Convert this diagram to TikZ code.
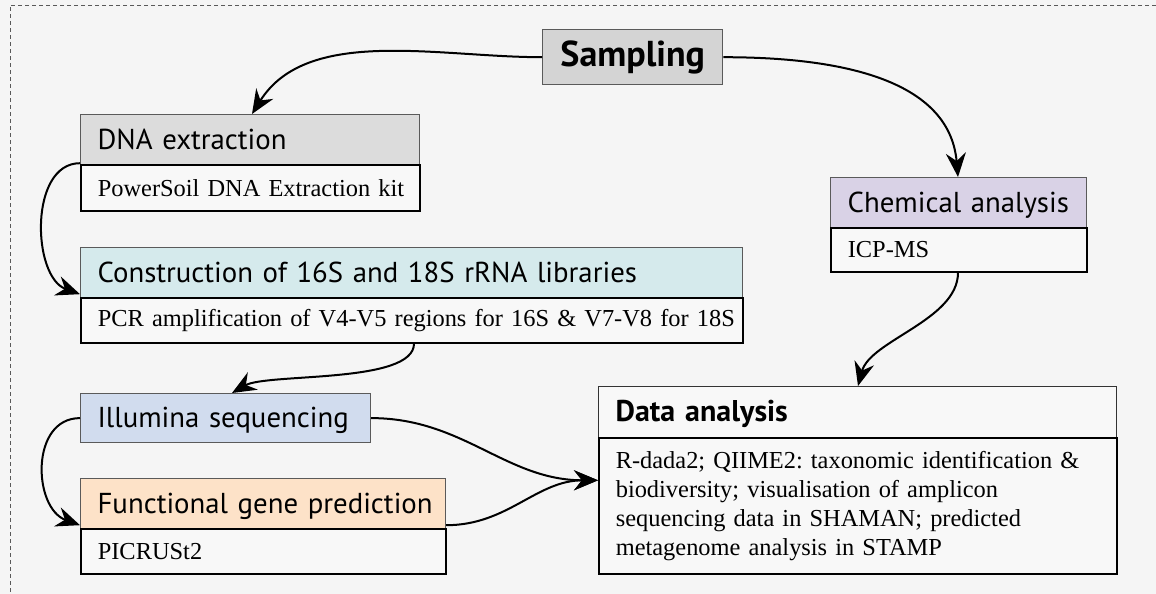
\documentclass[tikz,border=0pt]{standalone}
\usepackage{fontspec}
\setmainfont{Liberation Serif}
\newfontfamily\hdrfont{PT Sans}
\usetikzlibrary{arrows.meta,calc}
\frenchspacing
\definecolor{bgc}{HTML}{F5F5F5}
\definecolor{sampc}{HTML}{D4D4D4}
\definecolor{dnac}{HTML}{DCDCDC}
\definecolor{chemc}{HTML}{D9D2E6}
\definecolor{consc}{HTML}{D5EAEC}
\definecolor{illc}{HTML}{D1DCEE}
\definecolor{funcc}{HTML}{FDE2C8}
\definecolor{bodyc}{HTML}{F8F8F8}
\definecolor{hdrline}{HTML}{5A5A5A}
\tikzset{
  hdr/.style={draw=hdrline, line width=0.6pt, anchor=north west, inner xsep=8.5pt, inner ysep=0pt,
    minimum height=25pt, align=left, font=\hdrfont\fontsize{14.4}{16}\selectfont, text height=10pt, text depth=0.5pt},
  bodybox/.style={draw=black, line width=0.8pt, fill=bodyc, anchor=north west, inner xsep=8.5pt, inner ysep=0pt,
    align=left, font=\fontsize{12.2}{14.5}\selectfont},
  sampbox/.style={draw=hdrline, line width=0.7pt, fill=sampc, anchor=north west, minimum width=90pt,
    minimum height=27.5pt, inner sep=0pt, font=\hdrfont\bfseries\fontsize{18}{20}\selectfont},
  arr/.style={line width=1pt, -{Stealth[length=12pt,width=10pt,inset=4pt]}},
  frame/.style={draw=black!65, line width=0.4pt, dash pattern=on 2pt off 1.5pt}
}
\begin{document}
\begin{tikzpicture}[x=0.5pt,y=0.5pt]
\fill[bgc] (0,0) rectangle (1156,-594);
\useasboundingbox (0,0) rectangle (1156,-594);
\draw[frame] (1156,-5) -- (10,-5) -- (10,-594);

% Sampling
\node[sampbox] (samp) at (542,-29) {Sampling};

% DNA extraction
\node[hdr, fill=dnac, text width=152.5pt] (dnah) at (80,-114) {\mbox{DNA extraction}};
\node[bodybox, text width=152.5pt, minimum height=23pt] (dnab) at (80,-164) {\mbox{PowerSoil DNA Extraction kit}};

% Chemical analysis
\node[hdr, fill=chemc, text width=111pt] (chemh) at (830,-177) {\mbox{Chemical analysis}};
\node[bodybox, text width=111pt, minimum height=22pt] (chemb) at (830,-227) {\mbox{ICP-MS}};

% Construction
\node[hdr, fill=consc, text width=314pt] (consh) at (80,-247) {\mbox{Construction of 16S and 18S rRNA libraries}};
\node[bodybox, text width=314pt, minimum height=22.5pt] (consb) at (80,-297) {\mbox{PCR amplification of V4-V5 regions for 16S \& V7-V8 for 18S}};

% Illumina
\node[hdr, fill=illc, text width=128pt, minimum height=24.5pt] (illh) at (80,-393) {\mbox{Illumina sequencing}};

% Functional
\node[hdr, fill=funcc, text width=165.5pt] (funch) at (80,-478) {\mbox{Functional gene prediction}};
\node[bodybox, text width=165.5pt, minimum height=22.5pt] (funcb) at (80,-528) {\mbox{PICRUSt2}};

% Data analysis
\node[hdr, fill=bodyc, draw=black!80, text width=242pt, minimum height=25.5pt, font=\hdrfont\bfseries\fontsize{15}{17}\selectfont] (datah) at (598,-386) {\mbox{Data analysis}};
\node[bodybox, text width=242pt, minimum height=68pt] (datab) at (598,-437) {\mbox{R-dada2; QIIME2: taxonomic identification \&}\\ \mbox{biodiversity; visualisation of amplicon}\\ \mbox{sequencing data in SHAMAN; predicted}\\ \mbox{metagenome analysis in STAMP}};

% connectors
\draw[arr] (samp.west) to[out=180,in=58,looseness=0.9] ([xshift=86pt]dnah.north west);
\draw[arr] (samp.east) to[out=0,in=95,looseness=1] ([xshift=64pt]chemh.north west);
\draw[arr] ([yshift=1pt]dnah.south west) to[out=180,in=160,looseness=1.0] ([yshift=2pt]consh.south west);
\draw[arr] ([xshift=167pt]consb.south west) to[out=-90,in=30,looseness=0.55] ([xshift=76pt]illh.north west);
\draw[arr] (illh.west) to[out=180,in=160,looseness=1.2] ([yshift=2pt]funch.south west);
\draw[arr] (illh.east) to[out=0,in=180,looseness=1] ($(datah.north west)!0.5!(datab.south west)$);
\draw[arr] ([yshift=2pt]funch.south east) to[out=0,in=180,looseness=1] ($(datah.north west)!0.5!(datab.south west)$);
\draw[arr] ([xshift=64pt]chemb.south west) to[out=-90,in=75,looseness=0.8] ([xshift=130pt]datah.north west);
\end{tikzpicture}
\end{document}
